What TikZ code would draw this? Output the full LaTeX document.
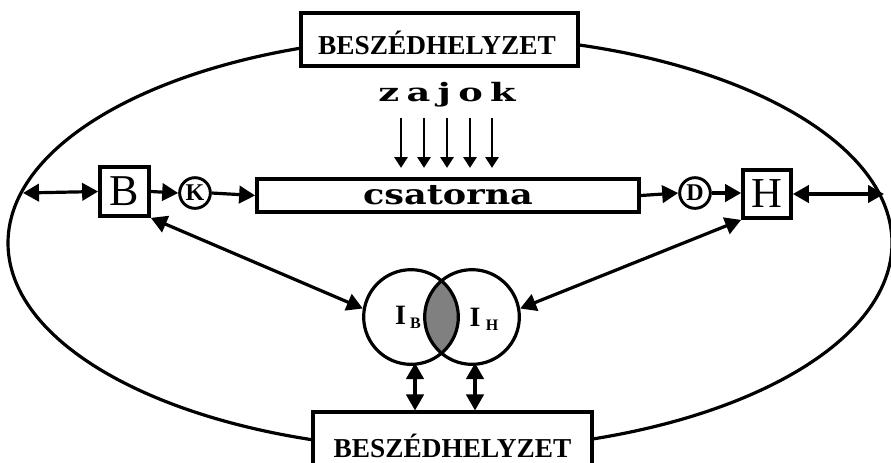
\documentclass[tikz,border=0pt]{standalone}
\usepackage{fontspec}
\setmainfont{Liberation Serif}
\newfontfamily\widefont{DejaVu Serif}
\usetikzlibrary{arrows.meta,calc}
\tikzset{
  box/.style={draw,line width=2.8pt,fill=white,inner sep=0pt},
  circ/.style={draw,circle,line width=2.2pt,fill=white,inner sep=0pt,minimum size=23pt},
  arr/.style={line width=2.4pt,-{Triangle[length=12pt,width=13pt]}},
  darr/.style={line width=2.4pt,{Triangle[length=12pt,width=13pt]}-{Triangle[length=12pt,width=13pt]}},
  noise/.style={line width=1.2pt,-{Triangle[length=8pt,width=10pt]}},
  venn/.style={draw,circle,line width=2.4pt,minimum size=71pt,inner sep=0pt},
}
\begin{document}
\begin{tikzpicture}[x=0.75pt,y=-0.75pt]
\useasboundingbox (0,0) rectangle (891,462);
% big ellipse
\draw[line width=2.4pt] (450,243) ellipse [x radius=442, y radius=207];
% boxes
\node[box,minimum width=208pt,minimum height=40pt] (top) at (439.5,39.5) {};
\node[font=\bfseries\fontsize{20.5}{21}\selectfont] (toptxt) at (437,43) {BESZÉDHELYZET};
\node[box,minimum width=209pt,minimum height=40pt] (bot) at (452.5,439) {};
\node[font=\bfseries\fontsize{20.5}{21}\selectfont] (bottxt) at (452.5,445.5) {BESZÉDHELYZET};
\node[box,minimum width=36.75pt,minimum height=36.75pt,font=\fontsize{33}{34}\selectfont] (B) at (124.5,191.5) {B};
\node[box,minimum width=36pt,minimum height=36pt,font=\fontsize{32}{33}\selectfont] (H) at (767,194) {H};
\node[circ,font=\bfseries\fontsize{18}{19}\selectfont] (K) at (195,193) {K};
\node[circ,font=\bfseries\fontsize{18}{19}\selectfont] (D) at (695,193) {D};
\node[box,minimum width=286.5pt,minimum height=24.75pt,font=\widefont\bfseries\fontsize{21}{22}\selectfont] (cs) at (448,195.5) {\scalebox{1.25}[1]{csatorna}};
% zajok
\node[font=\widefont\bfseries\fontsize{19}{21}\selectfont] (zaj) at (447,95) {\scalebox{1.45}[1]{z\kern.2em a\kern.2em j\kern.2em o\kern.2em k}};
% noise arrows
\foreach \x [count=\i] in {401,424,447,470,492}{
  \coordinate (n\i) at (\x,118);
  \draw[noise,shorten >=7pt] (n\i) -- (n\i |- cs.north);
}
% venn
\coordinate (vl) at (411,317);
\coordinate (vr) at (472,317);
\begin{scope}
  \clip (vl) circle [radius=47.5];
  \fill[black!50] (vr) circle [radius=47.5];
\end{scope}
\node[venn] (IB) at (vl) {};
\node[venn] (IH) at (vr) {};
\node[font=\bfseries\fontsize{21}{22}\selectfont] (lb) at (408,317) {I\kern3pt\raisebox{-3pt}{\fontsize{12}{13}\selectfont B}};
\node[font=\bfseries\fontsize{21}{22}\selectfont] (lh) at (484,319) {I\kern4pt\raisebox{-3pt}{\fontsize{12}{13}\selectfont H}};
% ellipse end points
\coordinate (eL) at (23,193);
\coordinate (eR) at (884,194);
\coordinate (a1) at (415,363);
\coordinate (a2) at (475,363);
% connectors
\draw[darr] (eL) -- (B.west);
\draw[darr] (H.east) -- (eR);
\draw[arr] (B.east) -- (K.west);
\draw[arr] (K.east) -- (cs.west);
\draw[arr] (cs.east) -- (D.west);
\draw[arr] (D.east) -- (H.west |- D.east);
\draw[darr] (B.south east) -- (IB.170);
\draw[darr] (H.south west) -- (IH.10);
\draw[darr] (a1) -- (a1 |- bot.north);
\draw[darr] (a2) -- (a2 |- bot.north);
\end{tikzpicture}
\end{document}
